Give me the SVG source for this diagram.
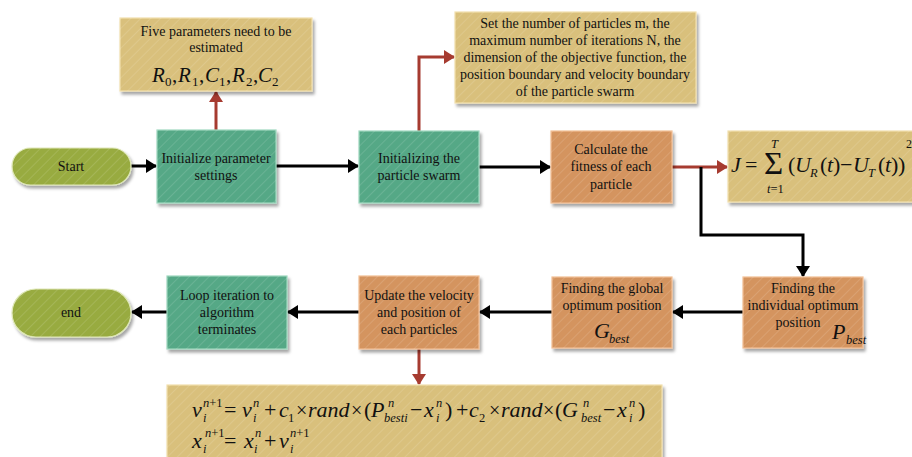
<svg xmlns="http://www.w3.org/2000/svg" width="912" height="457" viewBox="0 0 912 457" font-family="'Liberation Serif','Times New Roman',serif">
<style>
text{font-family:'Liberation Serif','Times New Roman',serif;fill:#111}
.t{font-size:14px;text-anchor:middle}
.m{font-style:italic;font-size:22px}
.s{font-style:italic;font-size:12.5px}
.u{font-style:normal}
.x{font-style:normal;font-size:20px}
.teal{fill:#55a886;stroke:#9fd8bf;stroke-width:1.2}
.tan{fill:#d9c07b;stroke:#f2e0ae;stroke-width:1.2}
.org{fill:#d4945f;stroke:#f2bf94;stroke-width:1.2}
.olv{fill:#98ab40;stroke:#dfe8b8;stroke-width:1.2}
.h{fill:url(#hatch);stroke:none;pointer-events:none}
.bk{fill:none;stroke:#000;stroke-width:3;marker-end:url(#ab)}
.rd{fill:none;stroke:#a63b30;stroke-width:3;marker-end:url(#ar)}
</style>
<defs>
<pattern id="hatch" width="7" height="7" patternUnits="userSpaceOnUse" patternTransform="rotate(45)">
<line x1="0" y1="0" x2="0" y2="7" stroke="#ffffff" stroke-opacity="0.12" stroke-width="2"/>
</pattern>
<filter id="sh" x="-10%" y="-10%" width="130%" height="140%">
<feDropShadow dx="2" dy="3" stdDeviation="1.8" flood-color="#000" flood-opacity="0.35"/>
</filter>
<marker id="ab" markerUnits="userSpaceOnUse" markerWidth="12" markerHeight="14" refX="10" refY="7" orient="auto"><path d="M0,0 L11,7 L0,14 z" fill="#000"/></marker>
<marker id="ar" markerUnits="userSpaceOnUse" markerWidth="12" markerHeight="14" refX="10" refY="7" orient="auto"><path d="M0,0 L11,7 L0,14 z" fill="#a63b30"/></marker>
</defs>
<rect width="912" height="457" fill="#fff"/>

<g id="connectors">
<path class="bk" d="M131,166 H156"/>
<path class="rd" d="M216,130 V92"/>
<path class="bk" d="M276,166 H358"/>
<path class="rd" d="M419,131 V57 H454"/>
<path class="bk" d="M479,167 H550"/>
<path class="rd" d="M672,167 H727"/>
<path class="bk" d="M701,167 V235 H803 V276"/>
<path class="bk" d="M743,312 H673"/>
<path class="bk" d="M552,312 H480"/>
<path class="bk" d="M359,312 H288"/>
<path class="bk" d="M167,312 H132"/>
<path class="rd" d="M419,349 V384"/>
</g>

<g id="start">
<rect class="olv" x="12" y="148" width="119" height="37" rx="18.5" filter="url(#sh)"/>
<rect class="h" x="12" y="148" width="119" height="37" rx="18.5"/>
<text class="t" x="71" y="171">Start</text>
</g>

<g id="init-param">
<rect class="teal" x="157" y="130" width="119" height="73" filter="url(#sh)"/>
<rect class="h" x="157" y="130" width="119" height="73"/>
<text class="t" x="216" y="163">Initialize parameter</text>
<text class="t" x="216" y="180">settings</text>
</g>

<g id="five-params">
<rect class="tan" x="120" y="18" width="192" height="73" filter="url(#sh)"/>
<rect class="h" x="120" y="18" width="192" height="73"/>
<text class="t" x="216" y="36">Five parameters need to be</text>
<text class="t" x="216" y="52">estimated</text>
<text style="font-size:21px;font-style:italic"><tspan x="152" y="82">R</tspan><tspan class="u" x="165" y="86" style="font-size:13px">0</tspan><tspan class="u" x="172" y="82">,</tspan><tspan x="178" y="82">R</tspan><tspan class="u" x="192" y="86" style="font-size:13px">1</tspan><tspan class="u" x="199" y="82">,</tspan><tspan x="205" y="82">C</tspan><tspan class="u" x="219" y="86" style="font-size:13px">1</tspan><tspan class="u" x="226" y="82">,</tspan><tspan x="232" y="82">R</tspan><tspan class="u" x="246" y="86" style="font-size:13px">2</tspan><tspan class="u" x="253" y="82">,</tspan><tspan x="258" y="82">C</tspan><tspan class="u" x="272" y="86" style="font-size:13px">2</tspan></text>
</g>

<g id="init-swarm">
<rect class="teal" x="359" y="131" width="120" height="72" filter="url(#sh)"/>
<rect class="h" x="359" y="131" width="120" height="72"/>
<text class="t" x="419" y="163">Initializing the</text>
<text class="t" x="419" y="180">particle swarm</text>
</g>

<g id="set-params">
<rect class="tan" x="455" y="12" width="241" height="91" filter="url(#sh)"/>
<rect class="h" x="455" y="12" width="241" height="91"/>
<text class="t" x="575" y="28">Set the number of particles m, the</text>
<text class="t" x="575" y="45">maximum number of iterations N, the</text>
<text class="t" x="575" y="62">dimension of the objective function, the</text>
<text class="t" x="575" y="79">position boundary and velocity boundary</text>
<text class="t" x="575" y="96">of the particle swarm</text>
</g>

<g id="calc-fitness">
<rect class="org" x="551" y="131" width="121" height="72" filter="url(#sh)"/>
<rect class="h" x="551" y="131" width="121" height="72"/>
<text class="t" x="611" y="154">Calculate the</text>
<text class="t" x="611" y="171">fitness of each</text>
<text class="t" x="611" y="189">particle</text>
</g>

<g id="fitness-eq">
<rect class="tan" x="728" y="131" width="190" height="71" filter="url(#sh)"/>
<rect class="h" x="728" y="131" width="190" height="71"/>
<text class="m" x="731" y="172">J</text>
<text class="m u" x="745" y="172">=</text>
<text class="u" transform="translate(764,174) scale(1.1,1.08)" style="font-size:30px">Σ</text>
<text class="s" x="771" y="148">T</text>
<text class="s" x="767" y="193">t<tspan class="u">=1</tspan></text>
<text class="m"><tspan class="u" x="788" y="172">(</tspan><tspan x="795" y="172">U</tspan><tspan class="s" x="810" y="177">R</tspan><tspan class="u" x="820" y="172">(</tspan><tspan x="827" y="172">t</tspan><tspan class="u" x="833" y="172">)</tspan><tspan class="u" x="840" y="172">−</tspan><tspan x="853" y="172">U</tspan><tspan class="s" x="868" y="177">T</tspan><tspan class="u" x="878" y="172">(</tspan><tspan x="885" y="172">t</tspan><tspan class="u" x="891" y="172">)</tspan><tspan class="u" x="898" y="172">)</tspan></text>
<text class="u" x="906" y="148" style="font-size:12px">2</text>
</g>

<g id="indiv-opt">
<rect class="org" x="743" y="277" width="120" height="71" filter="url(#sh)"/>
<rect class="h" x="743" y="277" width="120" height="71"/>
<text class="t" x="803" y="293">Finding the</text>
<text class="t" x="803" y="310">individual optimum</text>
<text class="t" x="798" y="327">position</text>
<text class="m" x="832" y="339">P</text>
<text class="s" x="846" y="344">best</text>
</g>

<g id="global-opt">
<rect class="org" x="552" y="277" width="120" height="71" filter="url(#sh)"/>
<rect class="h" x="552" y="277" width="120" height="71"/>
<text class="t" x="612" y="293">Finding the global</text>
<text class="t" x="612" y="310">optimum position</text>
<text class="m" x="594" y="338">G</text>
<text class="s" x="609" y="343">best</text>
</g>

<g id="update">
<rect class="org" x="359" y="276" width="120" height="73" filter="url(#sh)"/>
<rect class="h" x="359" y="276" width="120" height="73"/>
<text class="t" x="419" y="300">Update the velocity</text>
<text class="t" x="419" y="317">and position of</text>
<text class="t" x="419" y="334">each particles</text>
</g>

<g id="loop">
<rect class="teal" x="167" y="276" width="120" height="73" filter="url(#sh)"/>
<rect class="h" x="167" y="276" width="120" height="73"/>
<text class="t" x="227" y="300">Loop iteration to</text>
<text class="t" x="227" y="317">algorithm</text>
<text class="t" x="227" y="334">terminates</text>
</g>

<g id="end">
<rect class="olv" x="12" y="289" width="119" height="48" rx="24" filter="url(#sh)"/>
<rect class="h" x="12" y="289" width="119" height="48" rx="24"/>
<text class="t" x="71" y="317">end</text>
</g>

<g id="update-eq">
<rect class="tan" x="167" y="385" width="495" height="80" filter="url(#sh)"/>
<rect class="h" x="167" y="385" width="495" height="80"/>
<text class="m">
<tspan x="192" y="417">v</tspan><tspan class="s" x="203" y="407">n<tspan class="u">+1</tspan></tspan><tspan class="s" x="203" y="422">i</tspan>
<tspan class="u" x="224" y="417">=</tspan>
<tspan x="242" y="417">v</tspan><tspan class="s" x="253" y="407">n</tspan><tspan class="s" x="253" y="422">i</tspan>
<tspan class="u" x="264" y="417">+</tspan>
<tspan x="279" y="417">c</tspan><tspan class="s u" x="288" y="422">1</tspan>
<tspan class="x" x="296" y="417">×</tspan>
<tspan x="308" y="417">rand</tspan>
<tspan class="x" x="351" y="417">×</tspan>
<tspan class="u" x="364" y="417">(</tspan><tspan x="371" y="417">P</tspan><tspan class="s" x="388" y="407">n</tspan><tspan class="s" x="384" y="422">besti</tspan>
<tspan class="u" x="410" y="417">−</tspan>
<tspan x="424" y="417">x</tspan><tspan class="s" x="436" y="407">n</tspan><tspan class="s" x="436" y="422">i</tspan>
<tspan class="u" x="445" y="417">)</tspan>
<tspan class="u" x="456" y="417">+</tspan>
<tspan x="469" y="417">c</tspan><tspan class="s u" x="479" y="422">2</tspan>
<tspan class="x" x="489" y="417">×</tspan>
<tspan x="501" y="417">rand</tspan>
<tspan class="x" x="543" y="417">×</tspan>
<tspan class="u" x="555" y="417">(</tspan><tspan x="562" y="417">G</tspan><tspan class="s" x="583" y="407">n</tspan><tspan class="s" x="581" y="422">best</tspan>
<tspan class="u" x="603" y="417">−</tspan>
<tspan x="617" y="417">x</tspan><tspan class="s" x="629" y="407">n</tspan><tspan class="s" x="629" y="422">i</tspan>
<tspan class="u" x="638" y="417">)</tspan>
</text>
<text class="m">
<tspan x="192" y="448">x</tspan><tspan class="s" x="205" y="437">n<tspan class="u">+1</tspan></tspan><tspan class="s" x="203" y="453">i</tspan>
<tspan class="u" x="224" y="448">=</tspan>
<tspan x="244" y="448">x</tspan><tspan class="s" x="255" y="437">n</tspan><tspan class="s" x="254" y="453">i</tspan>
<tspan class="u" x="264" y="448">+</tspan>
<tspan x="279" y="448">v</tspan><tspan class="s" x="290" y="437">n<tspan class="u">+1</tspan></tspan><tspan class="s" x="290" y="453">i</tspan>
</text>
</g>
</svg>
